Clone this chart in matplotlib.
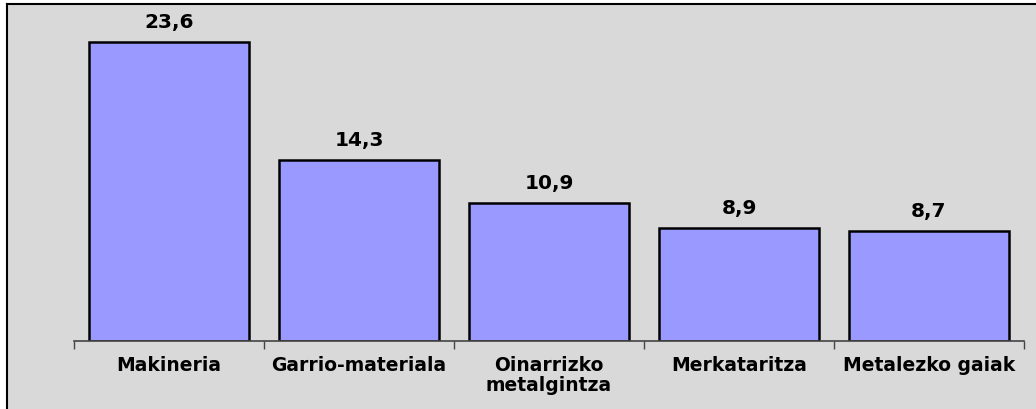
import matplotlib.pyplot as plt

# datuak
kategoriak = ["Makineria", "Garrio-materiala", "Oinarrizko\nmetalgintza",
              "Merkataritza", "Metalezko gaiak"]
balioak = [23.6, 14.3, 10.9, 8.9, 8.7]
etiketak = ["23,6", "14,3", "10,9", "8,9", "8,7"]

plt.rcParams['font.family'] = ['DejaVu Sans']

W, H = 1036, 410
fig = plt.figure(figsize=(W / 100, H / 100), dpi=100)

# panel grisa (atzeko ardatz bat, eskuinera eta behera irteten da)
bg = fig.add_axes([7 / W, -0.05, 1.05, 1.05 - 5 / H], zorder=-1)
bg.set_facecolor('#d9d9d9')
bg.set_xticks([])
bg.set_yticks([])
for s in bg.spines.values():
    s.set_linewidth(1.5)

ax = fig.add_axes([74 / W, (H - 342) / H, (1024 - 74) / W, (342 - 5) / H])
ax.set_facecolor('none')

x = range(len(balioak))
ax.bar(x, balioak, width=0.84, color='#9999ff', edgecolor='black', linewidth=1.8)

for i, v in enumerate(balioak):
    ax.annotate(etiketak[i], (i, v), xytext=(0, 8), textcoords='offset points',
                ha='center', va='bottom', fontsize=14.5, fontweight='bold')

ax.set_xlim(-0.5, len(balioak) - 0.5)
ax.set_ylim(0, 26.6)

for s in ['top', 'right', 'left']:
    ax.spines[s].set_visible(False)
ax.spines['bottom'].set_linewidth(1.2)
ax.spines['bottom'].set_color('#444444')
ax.set_yticks([])

ax.set_xticks([i - 0.5 for i in range(len(balioak) + 1)])
ax.set_xticklabels([])
ax.set_xticks(list(x), minor=True)
ax.set_xticklabels(kategoriak, minor=True, fontsize=13.5, fontweight='bold',
                   linespacing=1.05, va='top')
ax.tick_params(axis='x', which='major', length=6, width=1, color='#444444')
ax.tick_params(axis='x', which='minor', length=0, pad=10)

fig.savefig("out.png", dpi=100)
